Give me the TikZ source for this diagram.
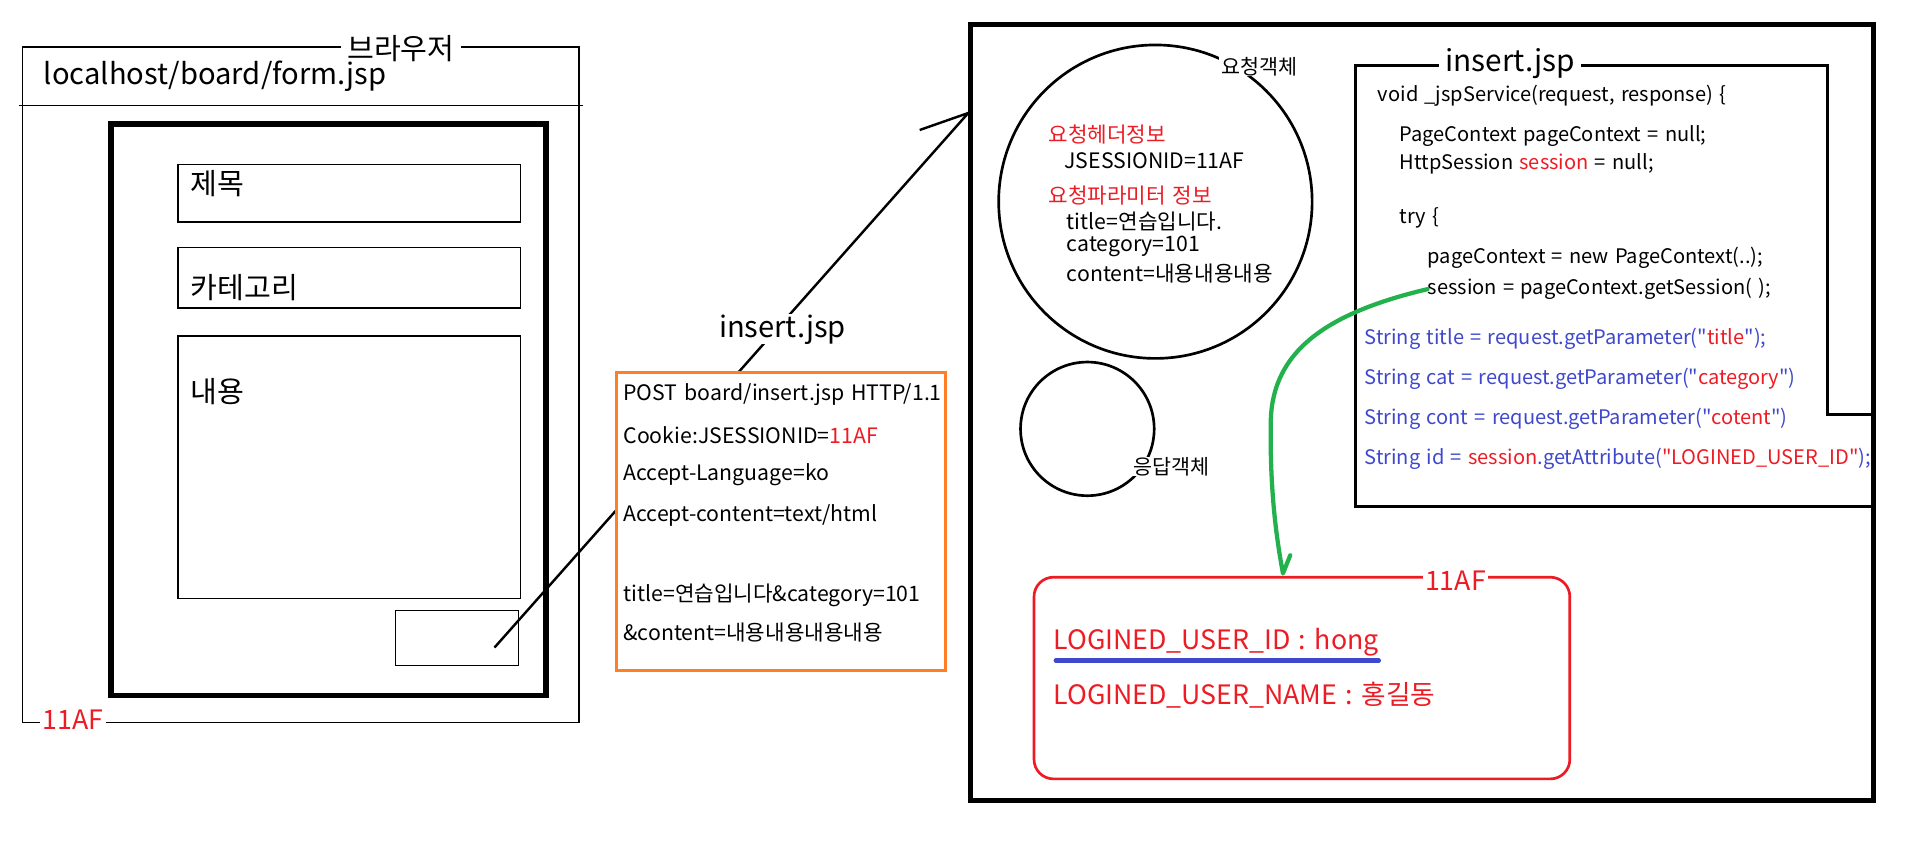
\documentclass[tikz,border=0pt]{standalone}
\usepackage{fontspec}
\setmainfont{Noto Sans CJK KR}[Ligatures=TeXOff, WordSpace=1.4]
\usetikzlibrary{arrows.meta}
\definecolor{myred}{RGB}{237,28,36}
\definecolor{myorange}{RGB}{255,127,39}
\definecolor{mygreen}{RGB}{34,177,76}
\definecolor{myblue}{RGB}{63,72,204}
\newcommand{\fs}[1]{\fontsize{#1}{#1}\selectfont}
\begin{document}
\begin{tikzpicture}[x=1pt,y=-1pt,
  box/.style={draw, inner sep=0pt, anchor=north west},
  thinbox/.style={box, line width=1.2pt},
  thickbox/.style={box, line width=4.5pt},
  lbl/.style={inner sep=0pt, anchor=west},
  gaplbl/.style={fill=white, inner xsep=5pt, inner ysep=0pt},
  bigtxt/.style={font=\fs{24}},
  midtxt/.style={font=\fs{22}},
  reqtxt/.style={lbl, font=\fs{17.5}},
  circtxt/.style={lbl, font=\fs{17.5}},
  codetxt/.style={lbl, font=\fs{16.5}},
  idtxt/.style={lbl, font=\fs{22}, text=myred}]
\useasboundingbox (0,0) rectangle (1568,709);

% ---------- browser ----------
\node[thinbox, minimum width=458pt, minimum height=556pt] (browser) at (18,38) {};
\node[gaplbl, bigtxt] (browsertitle) at (330,40) {브라우저};
\node[gaplbl, midtxt, text=myred, inner xsep=2pt] (cookie) at (60,592) {11AF};
\draw[line width=1.2pt] (16,87) -- (480,87);
\node[lbl, bigtxt] (url) at (36,63) {localhost/board/form.jsp};
\node[thickbox, minimum width=358pt, minimum height=470pt] (form) at (89,100) {};
\node[thinbox, minimum width=282pt, minimum height=47pt] (titlebox) at (146,135) {};
\node[thinbox, minimum width=282pt, minimum height=50pt] (catbox) at (146,203) {};
\node[thinbox, minimum width=282pt, minimum height=216pt] (contbox) at (146,276) {};
\node[thinbox, minimum width=101pt, minimum height=45pt] (btn) at (325,502) {};
\node[lbl, bigtxt] (ttitle) at (157,151) {제목};
\node[lbl, bigtxt] (tcat) at (157,237) {카테고리};
\node[lbl, bigtxt] (tcont) at (157,322) {내용};

% ---------- request line ----------
\coordinate (start) at (407,533);
\coordinate (tip) at (797,93);
\coordinate (barb) at (757,107);
\draw[line width=2pt] (start) -- (tip) -- (barb);

\node[gaplbl, bigtxt] (reqname) at (644,271) {insert.jsp};
\node[box, draw=myorange, fill=white, line width=2.5pt, minimum width=271pt, minimum height=246pt] (http) at (506,305) {};
\node[reqtxt] (h1) at (513,325) {POST board/insert.jsp HTTP/1.1};
\node[reqtxt] (h2) at (513,358) {Cookie:JSESSIONID=\textcolor{myred}{11AF}};
\node[reqtxt] (h3) at (513,391) {Accept-Language=ko};
\node[reqtxt] (h4) at (513,424) {Accept-content=text/html};
\node[reqtxt] (h5) at (513,490) {title=연습입니다\&category=101};
\node[reqtxt] (h6) at (513,521) {\&content=내용내용내용내용};

% ---------- server ----------
\node[box, line width=4pt, minimum width=743pt, minimum height=639pt] (server) at (797,18) {};

% request object
\node[draw, circle, line width=2.2pt, minimum size=258pt, inner sep=0pt] (reqobj) at (951,166) {};
\node[gaplbl, font=\fs{17}, inner xsep=2pt] (reqlabel) at (1037,55) {요청객체};
\node[circtxt, text=myred] (c1) at (863,111) {요청헤더정보};
\node[circtxt] (c2) at (876,132) {JSESSIONID=11AF};
\node[circtxt, text=myred] (c3) at (863,161) {요청파라미터 정보};
\node[circtxt] (c4) at (878,182) {title=연습입니다.};
\node[circtxt] (c5) at (878,203) {category=101};
\node[circtxt] (c6) at (878,225) {content=내용내용내용};

% response object
\node[draw, circle, line width=2.2pt, minimum size=110pt, inner sep=0pt] (resobj) at (895,353) {};
\node[gaplbl, font=\fs{17}, inner xsep=2pt] (reslabel) at (964,384) {응답객체};

% insert.jsp servlet box
\draw[line width=2.5pt] (1540,341) -- (1504,341) -- (1504,54) -- (1116,54) -- (1116,417) -- (1540,417);
\node[gaplbl, font=\fs{24.5}] (jsptitle) at (1243,52) {insert.jsp};
\node[codetxt] (k1) at (1134,79) {void \_jspService(request, response) \{};
\node[codetxt] (k2) at (1152,112) {PageContext pageContext = null;};
\node[codetxt] (k3) at (1152,135) {HttpSession \textcolor{myred}{session} = null;};
\node[codetxt] (k4) at (1152,179) {try \{};
\node[codetxt] (k5) at (1175,212) {pageContext = new PageContext(..);};
\node[codetxt] (k6) at (1175,238) {session = pageContext.getSession( );};
\node[codetxt, text=myblue] (k7) at (1123,279) {String title = request.getParameter("\textcolor{myred}{title}");};
\node[codetxt, text=myblue] (k8) at (1123,312) {String cat = request.getParameter("\textcolor{myred}{category}")};
\node[codetxt, text=myblue] (k9) at (1123,345) {String cont = request.getParameter("\textcolor{myred}{cotent}")};
\node[codetxt, text=myblue] (k10) at (1123,378) {String id = \textcolor{myred}{session}.getAttribute(\textcolor{myred}{"LOGINED\_USER\_ID"});};

% session store
\node[box, draw=myred, line width=2.2pt, rounded corners=16pt, minimum width=441pt, minimum height=166pt] (store) at (850,474) {};
\node[gaplbl, midtxt, text=myred, inner xsep=2pt] (storeid) at (1198,478) {11AF};
\node[idtxt] (s1) at (867,529) {LOGINED\_USER\_ID : hong};
\node[idtxt] (s2) at (867,572) {LOGINED\_USER\_NAME : 홍길동};
\draw[myblue, line width=3.5pt, line cap=round] ([shift={(2,3)}]s1.south west) -- ([shift={(0,3)}]s1.south east);

% green arrow
\coordinate (gtip) at (1056,472);
\coordinate (gbarb) at (1062,457);
\draw[mygreen, line width=3.5pt, line cap=round, line join=round]
  (k6.west) .. controls (1090,258) and (1048,290) .. (1046,345)
  .. controls (1045,400) and (1050,440) .. (gtip) -- (gbarb);
\end{tikzpicture}
\end{document}
